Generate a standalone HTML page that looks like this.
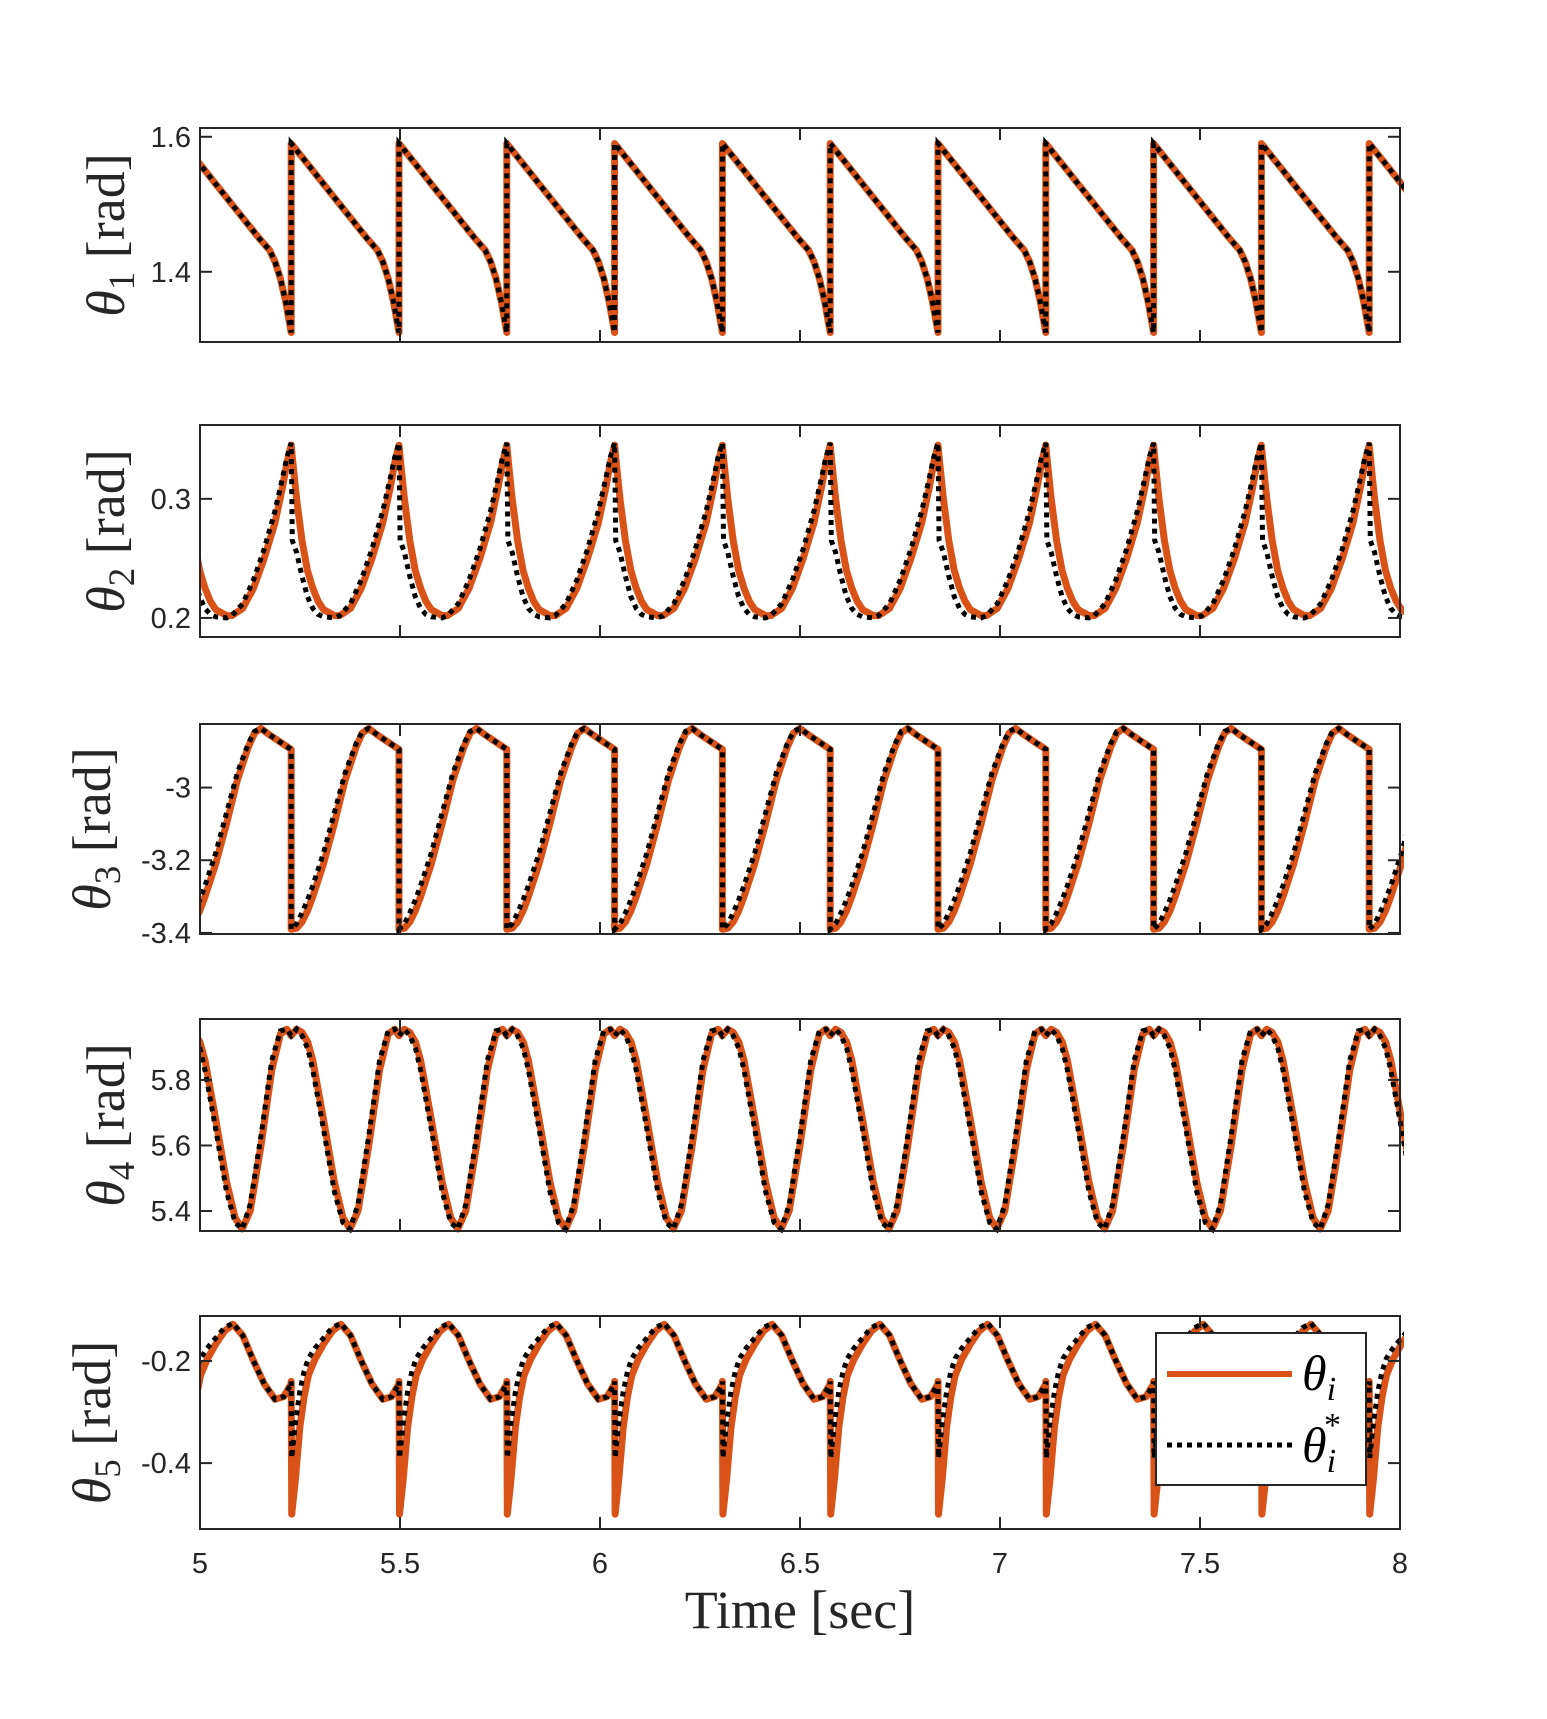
<!DOCTYPE html>
<html><head><meta charset="utf-8"><style>
html,body{margin:0;padding:0;background:#fff;}
svg{display:block;}
</style></head><body>
<svg id="fig" width="1547" height="1719" viewBox="0 0 1547 1719" xmlns="http://www.w3.org/2000/svg">
<defs id="defs"></defs>
<g id="panels"></g>
<text x="800" y="1628" text-anchor="middle" font-family="Liberation Serif, serif" font-size="54" fill="#262626">Time [sec]</text>
<g>
<rect x="1156" y="1333" width="210" height="152" fill="#fff" stroke="#262626" stroke-width="2"/>
<line x1="1167" y1="1374" x2="1292" y2="1374" stroke="#D95319" stroke-width="6"/>
<text x="1302" y="1390" font-family="Liberation Serif, serif" font-style="italic" font-size="50" fill="#000">θ<tspan font-size="34" dy="10">i</tspan></text>
<line x1="1167" y1="1445" x2="1292" y2="1445" stroke="#000" stroke-width="5" stroke-dasharray="5 5"/>
<text x="1302" y="1462" font-family="Liberation Serif, serif" font-style="italic" font-size="50" fill="#000">θ<tspan font-size="34" dy="10">i</tspan><tspan font-size="34" font-style="normal" dx="-12" dy="-36">*</tspan></text>
</g>
</svg>
<script>
// ---- data ----
const xTicks = [5, 5.5, 6, 6.5, 7, 7.5, 8];
const xTickLabels = ["5", "5.5", "6", "6.5", "7", "7.5", "8"];
const cycleStart = 5.228;   // time of first impact (sec)
const cyclePeriod = 0.2695; // step period (sec)
const phase1 = [0, 0.1, 0.2, 0.3, 0.4, 0.5, 0.6, 0.7, 0.8, 0.85, 0.9, 0.95, 1.0];
const theta1 = [1.59, 1.57, 1.55, 1.53, 1.51, 1.49, 1.47, 1.45, 1.432, 1.415, 1.39, 1.355, 1.31];
const theta1ref = [1.59, 1.57, 1.55, 1.53, 1.51, 1.49, 1.47, 1.45, 1.432, 1.415, 1.39, 1.355, 1.31];
const phase2 = [0, 0.01, 0.05, 0.1, 0.15, 0.2, 0.25, 0.3, 0.4, 0.45, 0.55, 0.65, 0.75, 0.85, 0.92, 0.96, 1.0];
const theta2 = [0.345, 0.335, 0.3, 0.265, 0.24, 0.225, 0.214, 0.207, 0.202, 0.202, 0.208, 0.225, 0.25, 0.28, 0.31, 0.33, 0.345];
const theta2ref = [0.347, 0.265, 0.255, 0.235, 0.218, 0.208, 0.203, 0.201, 0.2, 0.202, 0.212, 0.232, 0.258, 0.29, 0.318, 0.335, 0.347];
const phase3 = [0, 0.05, 0.1, 0.15, 0.2, 0.3, 0.4, 0.5, 0.6, 0.66, 0.72, 0.8, 0.9, 1.0];
const theta3 = [-3.39, -3.387, -3.37, -3.34, -3.3, -3.21, -3.1, -2.98, -2.89, -2.85, -2.837, -2.855, -2.875, -2.895];
const theta3ref = [-3.39, -3.375, -3.345, -3.31, -3.27, -3.18, -3.07, -2.96, -2.88, -2.845, -2.837, -2.855, -2.875, -2.895];
const phase4 = [0, 0.05, 0.1, 0.154, 0.2, 0.3, 0.4, 0.48, 0.545, 0.62, 0.72, 0.82, 0.9, 0.96, 1.0];
const theta4 = [5.935, 5.955, 5.945, 5.915, 5.86, 5.68, 5.49, 5.38, 5.345, 5.4, 5.6, 5.83, 5.94, 5.955, 5.935];
const theta4ref = [5.935, 5.955, 5.935, 5.895, 5.83, 5.65, 5.46, 5.365, 5.345, 5.42, 5.63, 5.86, 5.95, 5.955, 5.935];
const phase5 = [0, 0.005, 0.04, 0.08, 0.12, 0.16, 0.22, 0.3, 0.38, 0.46, 0.55, 0.65, 0.75, 0.85, 0.93, 1.0];
const theta5 = [-0.24, -0.5, -0.43, -0.33, -0.27, -0.228, -0.197, -0.167, -0.142, -0.128, -0.15, -0.2, -0.245, -0.275, -0.27, -0.245];
const theta5ref = [-0.24, -0.39, -0.32, -0.26, -0.22, -0.195, -0.175, -0.155, -0.135, -0.126, -0.15, -0.2, -0.245, -0.275, -0.27, -0.245];
const yTicks1 = [1.4, 1.6], yTickLabels1 = ["1.4", "1.6"];
const yTicks2 = [0.2, 0.3], yTickLabels2 = ["0.2", "0.3"];
const yTicks3 = [-3.4, -3.2, -3], yTickLabels3 = ["-3.4", "-3.2", "-3"];
const yTicks4 = [5.4, 5.6, 5.8], yTickLabels4 = ["5.4", "5.6", "5.8"];
const yTicks5 = [-0.4, -0.2], yTickLabels5 = ["-0.4", "-0.2"];

const panels = [
 {top:128,bottom:342,ymin:1.296,ymax:1.613,ph:phase1,a:theta1,r:theta1ref,yt:yTicks1,yl:yTickLabels1,sub:"1",lx:124},
 {top:425,bottom:637,ymin:0.184,ymax:0.362,ph:phase2,a:theta2,r:theta2ref,yt:yTicks2,yl:yTickLabels2,sub:"2",lx:124},
 {top:724,bottom:934,ymin:-3.403,ymax:-2.825,ph:phase3,a:theta3,r:theta3ref,yt:yTicks3,yl:yTickLabels3,sub:"3",lx:110},
 {top:1019,bottom:1231,ymin:5.339,ymax:5.986,ph:phase4,a:theta4,r:theta4ref,yt:yTicks4,yl:yTickLabels4,sub:"4",lx:124},
 {top:1316,bottom:1529,ymin:-0.529,ymax:-0.112,ph:phase5,a:theta5,r:theta5ref,yt:yTicks5,yl:yTickLabels5,sub:"5",lx:110}
];
const NS = "http://www.w3.org/2000/svg";
const L = 200, R = 1400, X0 = 5, X1 = 8;
const xs = t => L + (t - X0) / (X1 - X0) * (R - L);
function mk(tag, attrs, parent){ const e = document.createElementNS(NS, tag); for (const k in attrs) e.setAttribute(k, attrs[k]); parent.appendChild(e); return e; }
const root = document.getElementById('panels');
const defs = document.getElementById('defs');
panels.forEach((p, i) => {
  const ys = v => p.bottom - (v - p.ymin) / (p.ymax - p.ymin) * (p.bottom - p.top);
  const g = mk('g', {}, root);
  
  
  const cp = mk('clipPath', {id: 'c' + i}, defs);
  mk('rect', {x: L, y: p.top - 4, width: R - L + 4, height: p.bottom - p.top + 8}, cp);
  mk('rect', {x: L, y: p.top, width: R - L, height: p.bottom - p.top, fill: '#fff'}, g);
  const build = vals => {
    let d = '';
    for (let k = -1; k <= 11; k++) {
      p.ph.forEach((ph, j) => {
        const t = cycleStart + (k + ph) * cyclePeriod;
        d += (d ? 'L' : 'M') + xs(t).toFixed(1) + ',' + ys(vals[j]).toFixed(1);
      });
    }
    return d;
  };
  const a = mk('path', {d: build(p.a), fill: 'none', stroke: '#D95319', 'stroke-width': 7, 'stroke-linejoin': 'round', 'stroke-linecap': 'round', 'clip-path': 'url(#c' + i + ')'}, g);
  
  
  const r = mk('path', {d: build(p.r), fill: 'none', stroke: '#000', 'stroke-width': 5, 'stroke-dasharray': '5 5', 'clip-path': 'url(#c' + i + ')'}, g);
  
  
  const box = mk('rect', {x: L, y: p.top, width: R - L, height: p.bottom - p.top, fill: 'none', stroke: '#262626', 'stroke-width': 2}, g);
  
  
  xTicks.forEach((t, j) => {
    const x = xs(t);
    mk('line', {x1: x, y1: p.bottom, x2: x, y2: p.bottom - 12, stroke: '#262626', 'stroke-width': 2}, g);
    mk('line', {x1: x, y1: p.top, x2: x, y2: p.top + 12, stroke: '#262626', 'stroke-width': 2}, g);
    if (i === 4) {
      const tx = mk('text', {x: x, y: 1573, 'text-anchor': 'middle', 'font-family': 'Liberation Sans, sans-serif', 'font-size': 29, fill: '#262626'}, g);
      tx.textContent = xTickLabels[j];
      
      
    }
  });
  p.yt.forEach((v, j) => {
    const y = ys(v);
    mk('line', {x1: L, y1: y, x2: L + 12, y2: y, stroke: '#262626', 'stroke-width': 2}, g);
    mk('line', {x1: R, y1: y, x2: R - 12, y2: y, stroke: '#262626', 'stroke-width': 2}, g);
    const tx = mk('text', {x: 191, y: y + 10, 'text-anchor': 'end', 'font-family': 'Liberation Sans, sans-serif', 'font-size': 29, fill: '#262626'}, g);
    tx.textContent = p.yl[j];
    
    
  });
  const cy = (p.top + p.bottom) / 2;
  const yl = mk('text', {x: 0, y: 0, transform: 'translate(' + p.lx + ',' + cy + ') rotate(-90)', 'text-anchor': 'middle', 'font-family': 'Liberation Serif, serif', 'font-size': 54, fill: '#262626'}, g);
  yl.innerHTML = '<tspan font-style="italic">θ</tspan><tspan font-size="37" dy="10">' + p.sub + '</tspan><tspan dy="-10"> [rad]</tspan>';
  
  
});
</script>
</body></html>
